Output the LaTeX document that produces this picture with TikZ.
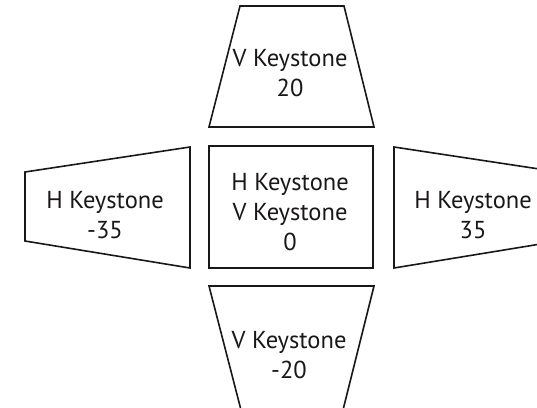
\documentclass[tikz,border=0pt]{standalone}
\usepackage{fontspec}
\setmainfont{PT Sans}
\usepackage{xcolor}
\usepackage{tikz}
\definecolor{kink}{HTML}{1A1718}

\begin{document}
\begin{tikzpicture}[x=1pt, y=1pt,
  shapeline/.style={draw=kink, line width=1.6pt, line join=miter},
  keylabel/.style={font=\fontsize{24.5}{30}\selectfont, text=kink, align=center, inner sep=0pt}]
\useasboundingbox (0,0) rectangle (537,407);
\clip (0,0) rectangle (537,407);
% top: vertical keystone +20
\draw[shapeline] (240,401) -- (344,401) -- (374,280) -- (209,280) -- cycle;
\node[keylabel] (vtop) at (290,333.5) {V Keystone\\20};
% centre: no correction
\draw[shapeline] (209,139) rectangle (373,261);
\node[keylabel] (hvzero) at (290,195) {H Keystone\\V Keystone\\0};
% left: horizontal keystone -35
\draw[shapeline] (25,235) -- (190,260) -- (190,139) -- (25,166) -- cycle;
\node[keylabel] (hleft) at (105,192) {H Keystone\\-35};
% right: horizontal keystone 35
\draw[shapeline] (394,260) -- (559,235) -- (559,166) -- (394,139) -- cycle;
\node[keylabel] (hright) at (473,192) {H Keystone\\35};
% bottom: vertical keystone -20
\draw[shapeline] (209,121) -- (374,121) -- (343,-3) -- (241,-3) -- cycle;
\node[keylabel] (vbottom) at (289,52) {V Keystone\\-20};
\end{tikzpicture}
\end{document}
